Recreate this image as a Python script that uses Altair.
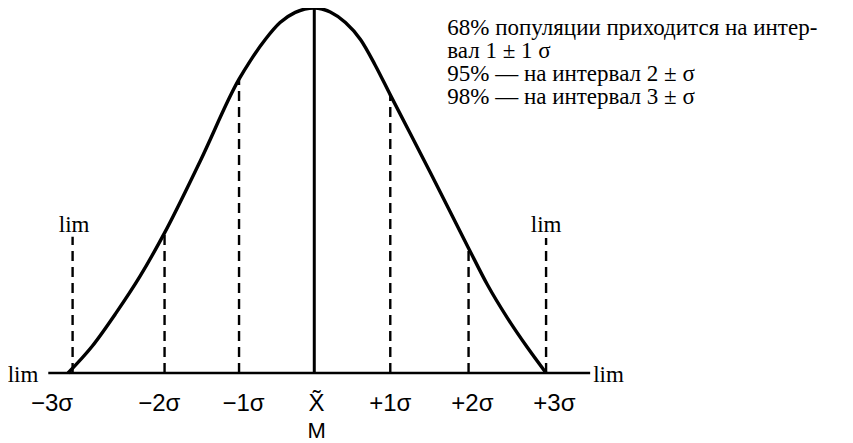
import altair as alt
import pandas as pd

# Bell curve (x in sigma units, y in % of peak height)
curve_x = [-3.24, -2.92, -2.61, -2.29, -1.97, -1.50, -0.99, -0.84, -0.64, -0.45, -0.25, 0.00,
           0.21, 0.41, 0.61, 0.80, 1.00, 1.53, 2.03, 2.28, 2.54, 2.80, 3.05]
curve_y = [0.0, 7.4, 16.4, 26.6, 38.4, 58.1, 80.5, 85.6, 91.5, 96.0, 98.8, 100.0,
           98.9, 96.0, 91.3, 84.4, 76.2, 54.8, 34.2, 24.1, 15.1, 7.1, 0.0]

# Dashed sigma lines (drawn position and top)
sigma_x = [-3.18, -1.97, -0.99, 1.00, 2.03, 3.05]
sigma_top = [37.3, 38.4, 80.5, 76.2, 34.2, 37.0]

# Central solid line (mean / mode)
mean_x = [0.0]
mean_top = [100.0]

# Baseline extent
base_x = [-3.50, 3.63]

# Tick labels under the baseline
tick_x = [-3.45, -2.04, -0.93, 0.03, 1.00, 2.08, 3.16]
tick_labels = ["\u22123\u03c3", "\u22122\u03c3", "\u22121\u03c3", "X\u0303", "+1\u03c3", "+2\u03c3", "+3\u03c3"]
mode_label = ["M"]

# "lim" labels
lim_top_x = [-3.16, 3.05]
lim_side_x = [-3.63, 3.67]

note_lines = [
    "68% популяции приходится на интер-",
    "вал 1 ± 1 σ",
    "95% — на интервал 2 ± σ",
    "98% — на интервал 3 ± σ",
]

xs = alt.Scale(domain=[-4.03, 6.97], nice=False, zero=False)
ys = alt.Scale(domain=[-19.18, 100], nice=False, zero=False)
X = lambda f: alt.X(f, type="quantitative", scale=xs, axis=None)
Y = lambda f: alt.Y(f, type="quantitative", scale=ys, axis=None)

curve_df = pd.DataFrame({"x": curve_x, "y": curve_y})
sig_df = pd.DataFrame({"x": sigma_x, "y0": [0.0] * len(sigma_x), "y1": sigma_top})
mean_df = pd.DataFrame({"x": mean_x, "y0": [0.0], "y1": mean_top})
base_df = pd.DataFrame({"x": [base_x[0]], "x2": [base_x[1]], "y": [0.0]})
tick_df = pd.DataFrame({"x": tick_x, "t": tick_labels, "y": [-8.5] * len(tick_x)})
mode_df = pd.DataFrame({"x": [tick_x[3]], "t": mode_label, "y": [-15.9]})
limtop_df = pd.DataFrame({"x": lim_top_x, "t": ["lim", "lim"], "y": [38.6, 38.6]})
liml_df = pd.DataFrame({"x": [lim_side_x[0]], "t": ["lim"], "y": [-0.6]})
limr_df = pd.DataFrame({"x": [lim_side_x[1]], "t": ["lim"], "y": [-0.6]})
note_df = pd.DataFrame({"x": [1.75], "y": [92.6], "t": ["\n".join(note_lines)]})

baseline = alt.Chart(base_df).mark_rule(color="black", strokeWidth=2.4).encode(
    x=X("x"), x2="x2", y=Y("y"))
dashed = alt.Chart(sig_df).mark_rule(color="black", strokeWidth=2.4, strokeDash=[10, 6]).encode(
    x=X("x"), y=Y("y0"), y2="y1")
mean_line = alt.Chart(mean_df).mark_rule(color="black", strokeWidth=3).encode(
    x=X("x"), y=Y("y0"), y2="y1")
curve = alt.Chart(curve_df).mark_line(color="black", strokeWidth=3.4, interpolate="monotone").encode(
    x=X("x"), y=Y("y"))

sans = "Liberation Sans"
serif = "Liberation Serif"
ticks = alt.Chart(tick_df).mark_text(font=sans, fontSize=24, color="black", baseline="middle", align="center").encode(
    x=X("x"), y=Y("y"), text="t")
mode = alt.Chart(mode_df).mark_text(font=sans, fontSize=22, color="black", baseline="middle", align="center").encode(
    x=X("x"), y=Y("y"), text="t")
limtop = alt.Chart(limtop_df).mark_text(font=serif, fontSize=23, color="black", baseline="alphabetic", align="center").encode(
    x=X("x"), y=Y("y"), text="t")
liml = alt.Chart(liml_df).mark_text(font=serif, fontSize=23, color="black", baseline="middle", align="right").encode(
    x=X("x"), y=Y("y"), text="t")
limr = alt.Chart(limr_df).mark_text(font=serif, fontSize=23, color="black", baseline="middle", align="left").encode(
    x=X("x"), y=Y("y"), text="t")
note = alt.Chart(note_df).mark_text(font=serif, fontSize=23, color="black", baseline="alphabetic", align="left",
                                    lineBreak="\n", lineHeight=23).encode(
    x=X("x"), y=Y("y"), text="t")

chart = alt.layer(baseline, dashed, mean_line, curve, ticks, mode, limtop, liml, limr, note).properties(
    width=836, height=435, autosize=alt.AutoSizeParams(type="none"), padding=0, background="white"
).configure_view(strokeWidth=0)

chart.save("out.html", embed_options={"renderer": "svg", "actions": False})
